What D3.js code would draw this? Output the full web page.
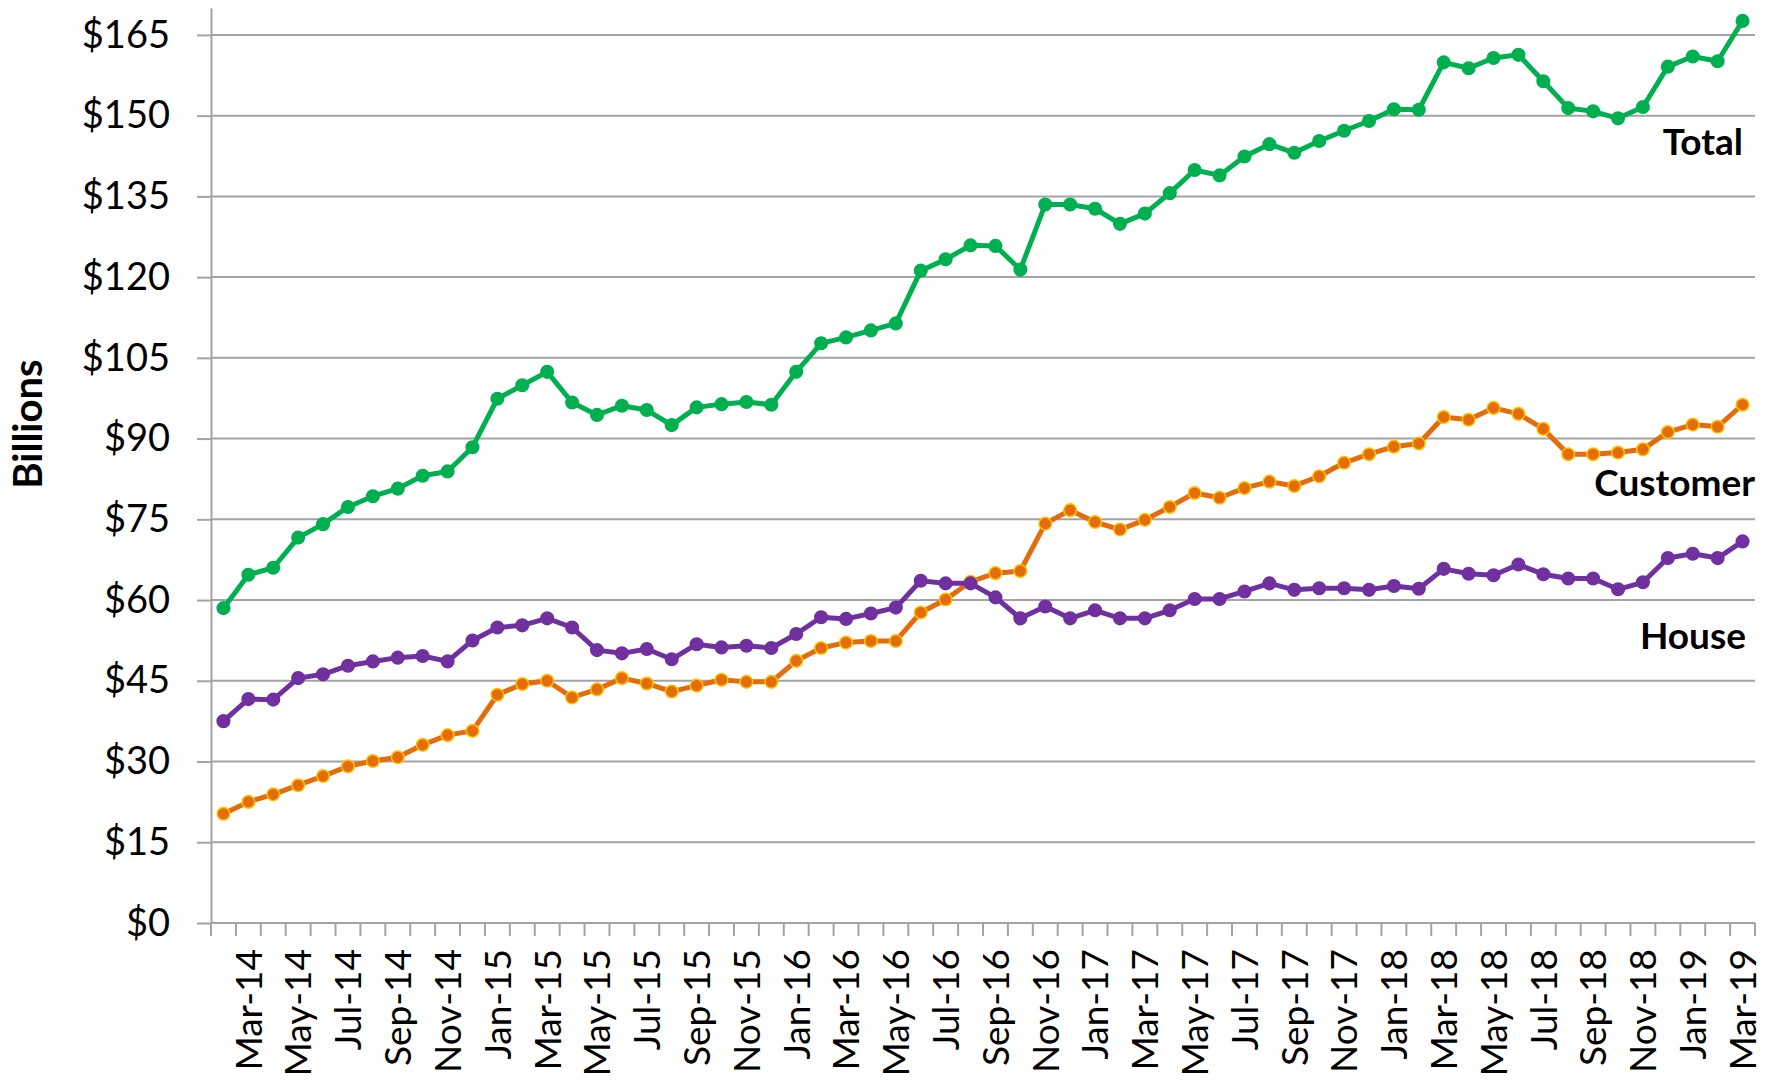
<!DOCTYPE html>
<html>
<head>
<meta charset="utf-8">
<script src="https://cdn.jsdelivr.net/npm/d3@7"></script>
<style>
  html, body { margin: 0; padding: 0; background: #fff; }
  svg { display: block; font-family: Lato, "Open Sans", sans-serif; }
</style>
</head>
<body>
<svg id="chart" width="1775" height="1080"></svg>
<script>
const categories = [
  "Feb-14","Mar-14","Apr-14","May-14","Jun-14","Jul-14","Aug-14","Sep-14","Oct-14","Nov-14","Dec-14",
  "Jan-15","Feb-15","Mar-15","Apr-15","May-15","Jun-15","Jul-15","Aug-15","Sep-15","Oct-15","Nov-15","Dec-15",
  "Jan-16","Feb-16","Mar-16","Apr-16","May-16","Jun-16","Jul-16","Aug-16","Sep-16","Oct-16","Nov-16","Dec-16",
  "Jan-17","Feb-17","Mar-17","Apr-17","May-17","Jun-17","Jul-17","Aug-17","Sep-17","Oct-17","Nov-17","Dec-17",
  "Jan-18","Feb-18","Mar-18","Apr-18","May-18","Jun-18","Jul-18","Aug-18","Sep-18","Oct-18","Nov-18","Dec-18",
  "Jan-19","Feb-19","Mar-19"
];

const totalValues = [
  58.5, 64.7, 66.0, 71.6, 74.1, 77.3, 79.3, 80.7, 83.1, 83.9, 88.4,
  97.4, 99.9, 102.4, 96.7, 94.4, 96.1, 95.3, 92.5, 95.8, 96.4, 96.8, 96.3,
  102.4, 107.7, 108.8, 110.1, 111.4, 121.2, 123.3, 125.9, 125.8, 121.4, 133.5, 133.5,
  132.7, 129.9, 131.8, 135.6, 139.9, 138.9, 142.4, 144.7, 143.1, 145.3, 147.2, 149.0,
  151.2, 151.1, 159.9, 158.8, 160.7, 161.3, 156.4, 151.4, 150.8, 149.5, 151.6, 159.1,
  161.0, 160.1, 167.6
];

const customerValues = [
  20.3, 22.5, 23.9, 25.6, 27.3, 29.1, 30.1, 30.8, 33.1, 34.9, 35.7,
  42.4, 44.4, 45.0, 41.9, 43.4, 45.5, 44.5, 43.0, 44.1, 45.2, 44.8, 44.8,
  48.7, 51.1, 52.1, 52.4, 52.4, 57.7, 60.1, 63.4, 65.0, 65.4, 74.2, 76.7,
  74.5, 73.1, 74.9, 77.3, 79.9, 79.0, 80.8, 82.0, 81.2, 83.0, 85.5, 87.1,
  88.5, 89.1, 94.0, 93.5, 95.7, 94.6, 91.8, 87.1, 87.1, 87.4, 88.0, 91.2,
  92.6, 92.2, 96.3
];

const houseValues = [
  37.5, 41.6, 41.5, 45.5, 46.2, 47.8, 48.6, 49.3, 49.6, 48.6, 52.5,
  54.9, 55.3, 56.6, 54.9, 50.7, 50.1, 50.9, 49.0, 51.8, 51.2, 51.5, 51.1,
  53.7, 56.8, 56.5, 57.5, 58.6, 63.6, 63.1, 63.1, 60.5, 56.6, 58.8, 56.6,
  58.1, 56.6, 56.6, 58.1, 60.2, 60.2, 61.6, 63.1, 61.9, 62.2, 62.2, 61.9,
  62.6, 62.1, 65.8, 64.9, 64.6, 66.6, 64.8, 64.0, 64.0, 62.0, 63.3, 67.8,
  68.6, 67.8, 70.9
];

const yTicks = [0, 15, 30, 45, 60, 75, 90, 105, 120, 135, 150, 165];
const xTickLabels = categories.filter((d, i) => i % 2 === 1);

const seriesNames = ["Total", "Customer", "House"];

// ---- layout ----
const svg = d3.select("#chart");
const plotLeft = 211, plotRight = 1755, plotTop = 8, plotBottom = 923;

const x = d3.scaleBand().domain(categories).range([plotLeft, plotRight]).padding(0);
const y = d3.scaleLinear().domain([0, 170]).range([plotBottom, plotTop]);
const cx = d => x(d) + x.bandwidth() / 2;

const gridColor = "#a3a3a3";

// gridlines
svg.append("g").selectAll("line")
  .data(yTicks.filter(v => v > 0))
  .join("line")
  .attr("x1", plotLeft).attr("x2", plotRight)
  .attr("y1", d => y(d)).attr("y2", d => y(d))
  .attr("stroke", gridColor).attr("stroke-width", 2);

// Y axis
const yAxis = svg.append("g")
  .attr("transform", `translate(${plotLeft},0)`)
  .call(d3.axisLeft(y).tickValues(yTicks).tickFormat(d => "$" + d)
    .tickSize(14).tickSizeOuter(0).tickPadding(27));
yAxis.select(".domain").attr("stroke", gridColor).attr("stroke-width", 2);
yAxis.selectAll(".tick line").attr("stroke", gridColor).attr("stroke-width", 2);
yAxis.selectAll(".tick text").attr("font-size", 38).attr("fill", "#000")
  .attr("font-family", "Lato, sans-serif");

// X axis baseline
svg.append("line")
  .attr("x1", plotLeft).attr("x2", plotRight)
  .attr("y1", y(0)).attr("y2", y(0))
  .attr("stroke", gridColor).attr("stroke-width", 2);

// X tick marks at band boundaries
const boundaries = categories.map(c => x(c)).concat([x(categories[categories.length - 1]) + x.bandwidth()]);
svg.append("g").selectAll("line")
  .data(boundaries)
  .join("line")
  .attr("x1", d => d).attr("x2", d => d)
  .attr("y1", y(0)).attr("y2", y(0) + 13)
  .attr("stroke", gridColor).attr("stroke-width", 2);

// X labels (every other month)
const xAxis = svg.append("g")
  .attr("transform", `translate(0,${y(0)})`)
  .call(d3.axisBottom(x).tickValues(xTickLabels).tickSize(0).tickPadding(0));
xAxis.select(".domain").remove();
xAxis.selectAll(".tick text")
  .attr("font-size", 37).attr("fill", "#000")
  .attr("font-family", "Lato, sans-serif")
  .attr("text-anchor", "end")
  .attr("transform", "rotate(-90)")
  .attr("x", -26).attr("y", 0).attr("dy", "0.36em");

// Y axis title
svg.append("text")
  .attr("transform", `translate(28,424) rotate(-90)`)
  .attr("text-anchor", "middle").attr("dy", "0.36em")
  .attr("font-size", 40).attr("font-weight", "bold").attr("fill", "#000")
  .text("Billions");

// series
const series = [
  { name: seriesNames[0], values: totalValues, color: "#00B050", mfill: "#00B050", mstroke: "#00B050" },
  { name: seriesNames[1], values: customerValues, color: "#E46C0A", mfill: "#E46C0A", mstroke: "#FFC000" },
  { name: seriesNames[2], values: houseValues, color: "#7030A0", mfill: "#7030A0", mstroke: "#7030A0" }
];

const line = d3.line().x((d, i) => cx(categories[i])).y(d => y(d));

series.forEach(s => {
  const g = svg.append("g");
  g.append("path")
    .attr("d", line(s.values))
    .attr("fill", "none").attr("stroke", s.color)
    .attr("stroke-width", 5).attr("stroke-linejoin", "round");
  g.selectAll("circle")
    .data(s.values)
    .join("circle")
    .attr("cx", (d, i) => cx(categories[i]))
    .attr("cy", d => y(d))
    .attr("r", 6.3)
    .attr("fill", s.mfill)
    .attr("stroke", s.mstroke).attr("stroke-width", 1.5);
});

// series labels
const labelPos = [
  { text: seriesNames[0], x: 1743, y: 142 },
  { text: seriesNames[1], x: 1755, y: 483 },
  { text: seriesNames[2], x: 1746, y: 636 }
];
svg.append("g").selectAll("text")
  .data(labelPos)
  .join("text")
  .attr("x", d => d.x).attr("y", d => d.y)
  .attr("dy", "0.36em")
  .attr("text-anchor", "end")
  .attr("font-size", 37).attr("font-weight", "bold").attr("fill", "#000")
  .text(d => d.text);
</script>
</body>
</html>
